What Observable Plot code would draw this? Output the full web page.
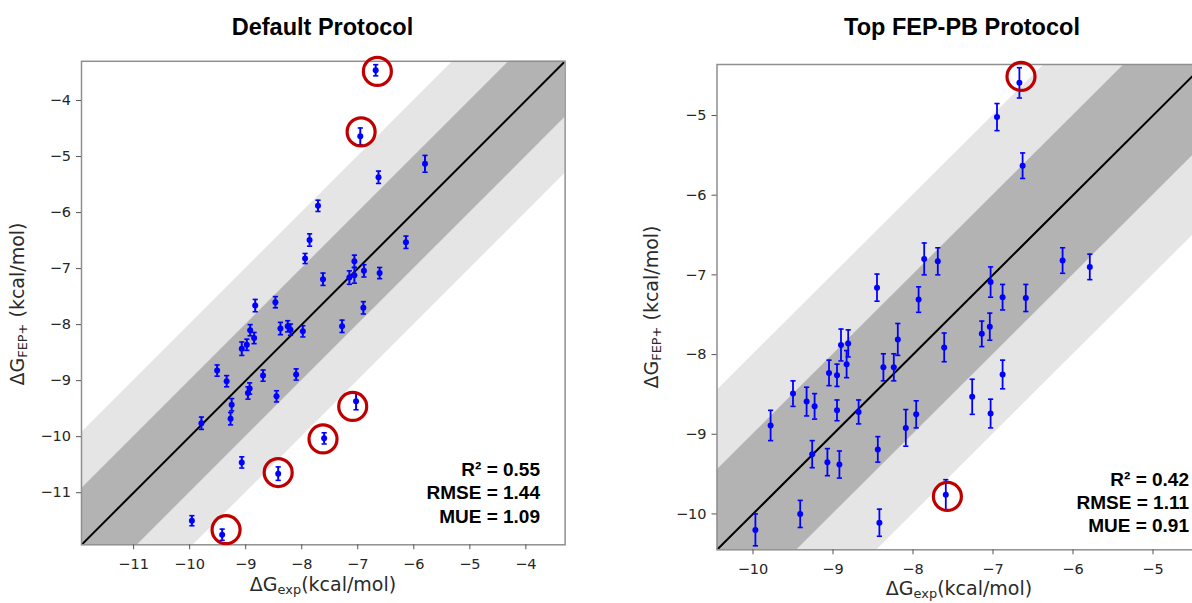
<!DOCTYPE html>
<html>
<head>
<meta charset="utf-8">
<script src="https://cdn.jsdelivr.net/npm/d3@7"></script>
<script src="https://cdn.jsdelivr.net/npm/@observablehq/plot@0.6"></script>
<style>
  html, body { margin: 0; padding: 0; background: #fff; }
  #wrap { position: relative; width: 1192px; height: 603px; overflow: hidden; background: #fff; }
  .t { position: absolute; white-space: nowrap; line-height: 1; }
  .title { font-family: "Liberation Sans", Arial, sans-serif; font-weight: bold; font-size: 23.5px; color: #000; transform: translate(-50%, -50%); }
  .stat { font-family: "Liberation Sans", Arial, sans-serif; font-weight: bold; font-size: 19px; color: #000; transform: translate(-100%, -50%); }
  .xl { font-family: "DejaVu Sans", sans-serif; font-size: 19px; color: #2a2a2a; transform: translate(-50%, -50%); }
  .yl { font-family: "DejaVu Sans", sans-serif; font-size: 19px; color: #2a2a2a; transform: translate(-50%, -50%) rotate(-90deg); }
  .sub { font-size: 68%; vertical-align: -0.28em; }
</style>
</head>
<body>
<div id="wrap"></div>
<script>
// ---------- Data: Default Protocol ----------
const defExp = [-6.68, -6.955, -5.80, -6.63, -7.71, -7.86, -7.94, -6.14, -7.06, -7.15, -7.06, -6.89, -6.61, -7.62, -6.90,
  -8.47, -8.83, -8.38, -8.25, -8.20, -7.98, -7.28, -8.92, -8.85, -8.98, -9.07, -9.51, -9.34, -8.69, -8.10,
  -8.45, -8.96, -8.93, -9.25, -9.27, -9.79, -7.03, -7.60, -9.07, -8.42, -9.96, -9.42];
const defFep = [-3.46, -4.64, -5.13, -5.37, -5.88, -6.49, -6.82, -6.53, -6.87, -7.16, -7.12, -7.04, -7.08, -7.19, -7.70,
  -7.60, -7.66, -8.07, -8.03, -8.09, -8.12, -8.03, -8.10, -8.24, -8.36, -8.43, -8.82, -9.01, -8.91, -8.89,
  -9.28, -9.22, -9.14, -9.43, -9.68, -9.76, -9.37, -10.03, -10.46, -10.66, -11.50, -11.75];
const defErr = [0.10, 0.15, 0.15, 0.11, 0.10, 0.11, 0.09, 0.11, 0.11, 0.12, 0.14, 0.11, 0.10, 0.11, 0.11,
  0.10, 0.11, 0.11, 0.10, 0.10, 0.10, 0.11, 0.10, 0.10, 0.10, 0.12, 0.10, 0.10, 0.10, 0.10,
  0.10, 0.11, 0.10, 0.11, 0.11, 0.11, 0.15, 0.10, 0.10, 0.12, 0.09, 0.10];
const defCircleX = [-6.65, -6.94, -7.09, -7.62, -8.42, -9.35];
const defCircleY = [-3.48, -4.56, -9.46, -10.04, -10.64, -11.66];
const defXTicks = [-11, -10, -9, -8, -7, -6, -5, -4];
const defYTicks = [-11, -10, -9, -8, -7, -6, -5, -4];
const defStats = ["R² = 0.55", "RMSE = 1.44", "MUE = 1.09"];

// ---------- Data: Top FEP-PB Protocol ----------
const topExp = [-6.67, -6.95, -6.63, -7.86, -7.69, -6.13, -5.79, -8.45, -7.93, -7.03, -6.88, -6.59, -7.14, -7.04,
  -8.19, -7.61, -8.90, -8.81, -8.83, -9.05, -8.95, -8.37, -8.24, -6.88, -9.50, -9.33, -9.23, -8.95,
  -8.68, -9.78, -7.26, -7.03, -7.96, -8.09, -8.44, -9.26, -9.07, -8.92, -9.41, -9.97, -8.42, -7.59];
const topFep = [-4.59, -5.02, -5.63, -6.80, -6.83, -6.82, -6.90, -7.16, -7.31, -7.09, -7.28, -7.29, -7.74, -7.65,
  -7.81, -7.91, -7.88, -7.86, -8.12, -8.23, -8.26, -8.16, -8.16, -8.25, -8.49, -8.59, -8.65, -8.70,
  -8.72, -8.89, -8.53, -8.74, -8.75, -8.92, -9.19, -9.25, -9.35, -9.38, -10.00, -10.20, -10.11, -9.76];
const topErr = [0.19, 0.17, 0.16, 0.20, 0.17, 0.16, 0.16, 0.17, 0.16, 0.19, 0.16, 0.17, 0.16, 0.17,
  0.20, 0.18, 0.20, 0.17, 0.17, 0.16, 0.14, 0.17, 0.17, 0.18, 0.16, 0.18, 0.16, 0.13,
  0.15, 0.19, 0.22, 0.18, 0.17, 0.23, 0.16, 0.17, 0.17, 0.17, 0.17, 0.20, 0.17, 0.19];
const topCircleX = [-6.65, -7.57];
const topCircleY = [-4.51, -9.78];
const topXTicks = [-10, -9, -8, -7, -6, -5];
const topYTicks = [-10, -9, -8, -7, -6, -5];
const topStats = ["R² = 0.42", "RMSE = 1.11", "MUE = 0.91"];

const titles = ["Default Protocol", "Top FEP-PB Protocol"];

// horizontal cap symbol for error bars
const capSymbol = {
  draw(ctx, size) {
    const r = Math.sqrt(size / Math.PI);
    ctx.moveTo(-r, 0);
    ctx.lineTo(r, 0);
  }
};

function panel({xs, ys, es, cx, cy, domain, xticks, yticks, width, height, ml, mr, mt, mb, barW}) {
  const pts = xs.map((x, i) => ({x, y: ys[i], e: es[i]}));
  const circ = cx.map((x, i) => ({x, y: cy[i]}));
  const ends = domain;
  return Plot.plot({
    width, height,
    marginLeft: ml, marginRight: mr, marginTop: mt, marginBottom: mb,
    x: {domain},
    y: {domain},
    style: {fontFamily: "DejaVu Sans, sans-serif", fontSize: "14.5px", color: "#262626", background: "transparent", overflow: "visible"},
    marks: [
      Plot.areaY(ends, {x: d => d, y1: d => d - 2, y2: d => d + 2, fill: "#e5e5e5", clip: true}),
      Plot.areaY(ends, {x: d => d, y1: d => d - 1, y2: d => d + 1, fill: "#b3b3b3", clip: true}),
      Plot.line(ends, {x: d => d, y: d => d, stroke: "#000", strokeWidth: 2, clip: true}),
      Plot.frame({stroke: "#8f8f8f", strokeWidth: 1.5}),
      Plot.axisX({ticks: xticks, tickSize: 5, tickPadding: 8.5, label: null, stroke: "#555", fill: "#262626", tickFormat: d3.format("d")}),
      Plot.axisY({ticks: yticks, tickSize: 5, tickPadding: 5.5, label: null, stroke: "#555", fill: "#262626", tickFormat: d3.format("d")}),
      Plot.ruleX(pts, {x: "x", y1: d => d.y - d.e, y2: d => d.y + d.e, stroke: "#0000ff", strokeWidth: barW}),
      Plot.dot(pts, {x: "x", y: d => d.y - d.e, symbol: capSymbol, r: 2.6, fill: "none", stroke: "#0000ff", strokeWidth: 1.6}),
      Plot.dot(pts, {x: "x", y: d => d.y + d.e, symbol: capSymbol, r: 2.6, fill: "none", stroke: "#0000ff", strokeWidth: 1.6}),
      Plot.dot(pts, {x: "x", y: "y", r: 3, fill: "#0000ff"}),
      Plot.dot(circ, {x: "x", y: "y", r: 14, fill: "none", stroke: "#c00000", strokeWidth: 3.2})
    ]
  });
}

const wrap = document.getElementById("wrap");

const left = panel({xs: defExp, ys: defFep, es: defErr, cx: defCircleX, cy: defCircleY,
  domain: [-11.93, -3.30], xticks: defXTicks, yticks: defYTicks, width: 600, height: 603, ml: 81, mr: 35.4, mt: 60.8, mb: 58.7, barW: 2});
left.style.position = "absolute"; left.style.left = "0px"; left.style.top = "0px";
wrap.appendChild(left);

const right = panel({xs: topExp, ys: topFep, es: topErr, cx: topCircleX, cy: topCircleY,
  domain: [-10.45, -4.36], xticks: topXTicks, yticks: topYTicks, width: 624, height: 603, ml: 116.5, mr: 20.3, mt: 64, mb: 53.7, barW: 1.8});
right.style.position = "absolute"; right.style.left = "600px"; right.style.top = "0px";
wrap.appendChild(right);

function addText(cls, html, x, y) {
  const d = document.createElement("div");
  d.className = "t " + cls;
  d.innerHTML = html;
  d.style.left = x + "px";
  d.style.top = y + "px";
  wrap.appendChild(d);
}

addText("title", titles[0], 322.5, 28);
addText("title", titles[1], 962, 28);

addText("xl", 'ΔG<span class="sub">exp</span>(kcal/mol)', 323, 586);
addText("xl", 'ΔG<span class="sub">exp</span>(kcal/mol)', 959, 590);
addText("yl", 'ΔG<span class="sub">FEP+</span> (kcal/mol)', 19, 304);
addText("yl", 'ΔG<span class="sub">FEP+</span> (kcal/mol)', 653, 307);

const leftStatY = [468.5, 492.3, 516.2];
const rightStatY = [478.8, 502, 525];
defStats.forEach((s, i) => addText("stat", s, 540, leftStatY[i]));
topStats.forEach((s, i) => addText("stat", s, 1189, rightStatY[i]));
</script>
</body>
</html>
